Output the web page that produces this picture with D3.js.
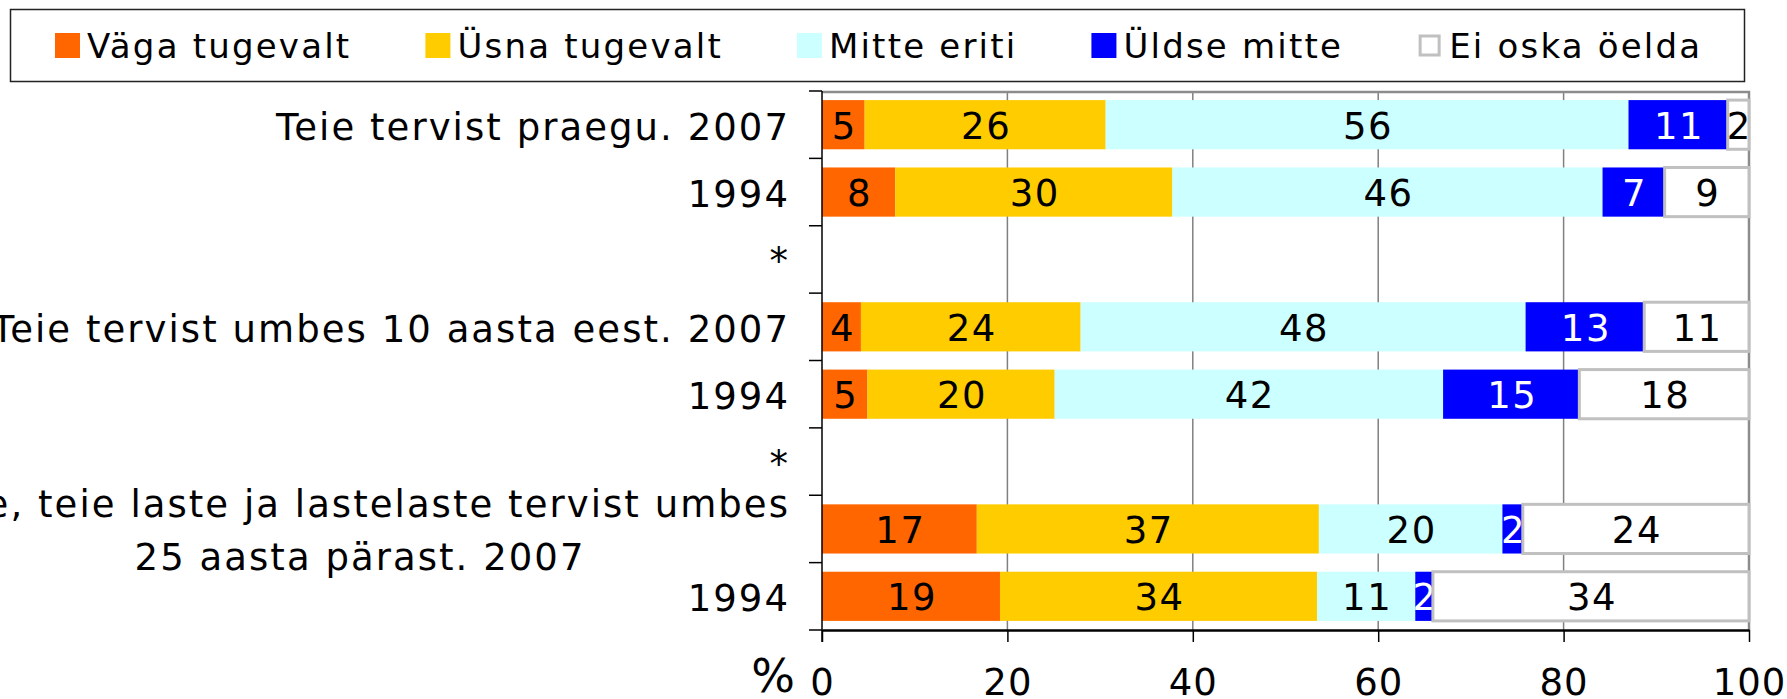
<!DOCTYPE html>
<html>
<head>
<meta charset="utf-8">
<script src="https://cdn.jsdelivr.net/npm/d3@7"></script>
<style>
body { margin: 0; background: #fff; }
svg { display: block; font-family: "DejaVu Sans", Verdana, sans-serif; }
</style>
</head>
<body>
<svg width="1787" height="699"></svg>
<script>
// rows, top to bottom; "*" rows are empty spacers
var categories = [
  ["Teie tervist praegu. 2007"],
  ["1994"],
  ["*"],
  ["Teie tervist umbes 10 aasta eest. 2007"],
  ["1994"],
  ["*"],
  ["Teie, teie laste ja lastelaste tervist umbes", "25 aasta pärast. 2007"],
  ["1994"]
];

var seriesNames = ["Väga tugevalt", "Üsna tugevalt", "Mitte eriti", "Üldse mitte", "Ei oska öelda"];
var seriesKeys = ["vaga", "usna", "mitte", "uldse", "eioska"];

// percentages per row (null = spacer row)
var vagaTugevalt = [4.6, 7.9, null, 4.2, 4.9, null, 16.7, 19.2];
var usnaTugevalt = [26.0, 29.9, null, 23.7, 20.2, null, 36.9, 34.2];
var mitteEriti   = [56.4, 46.4, null, 48.0, 41.9, null, 19.8, 10.6];
var uldseMitte   = [10.7, 6.7, null, 12.8, 14.7, null, 2.2, 1.9];
var eiOskaOelda  = [2.3, 9.1, null, 11.3, 18.3, null, 24.4, 34.1];

var xTicks = [0, 20, 40, 60, 80, 100];

var svg = d3.select("svg");

var color = d3.scaleOrdinal()
    .domain(seriesKeys)
    .range(["#ff6600", "#ffcc00", "#ccffff", "#0000ff", "#ffffff"]);

var rows = categories.map(function(c, i) {
  return {
    i: i,
    vaga: vagaTugevalt[i], usna: usnaTugevalt[i], mitte: mitteEriti[i],
    uldse: uldseMitte[i], eioska: eiOskaOelda[i]
  };
});
var dataRows = rows.filter(function(d) { return d.vaga != null; });

var x = d3.scaleLinear().domain([0, 100]).range([822, 1749]);
var y = d3.scaleBand().domain(d3.range(categories.length)).range([91, 630]).padding(0);
var barInset = y.bandwidth() * 0.135,
    barH = y.bandwidth() * 0.73;

// gridlines
svg.append("g").selectAll("line")
  .data(xTicks.slice(1, -1))
  .enter().append("line")
    .attr("x1", function(d) { return x(d); })
    .attr("x2", function(d) { return x(d); })
    .attr("y1", 91).attr("y2", 630)
    .attr("stroke", "#808080").attr("stroke-width", 1.5);

// plot area frame (top & right)
svg.append("path")
    .attr("d", "M" + x(0) + "," + 92 + "H" + (x(100)) + "V" + 630)
    .attr("fill", "none")
    .attr("stroke", "#8c8c8c")
    .attr("stroke-width", 2.5);

// bars
var stack = d3.stack().keys(seriesKeys);
var layers = stack(dataRows);

var layer = svg.append("g").selectAll("g")
  .data(layers)
  .enter().append("g");

layer.selectAll("rect")
  .data(function(d) { return d.map(function(p) { p.key = d.key; return p; }); })
  .enter().append("rect")
    .attr("x", function(d) { return x(d[0]); })
    .attr("width", function(d) { return x(d[1]) - x(d[0]); })
    .attr("y", function(d) { return y(d.data.i) + barInset; })
    .attr("height", barH)
    .attr("fill", function(d) { return color(d.key); })
    .attr("stroke", function(d) { return d.key == "eioska" ? "#c0c0c0" : "none"; })
    .attr("stroke-width", 3);

layer.selectAll("text")
  .data(function(d) { return d; })
  .enter().append("text")
    .attr("x", function(d) { return (x(d[0]) + x(d[1])) / 2 + 1; })
    .attr("y", function(d) { return y(d.data.i) + y.bandwidth() / 2 + 14; })
    .attr("text-anchor", "middle")
    .attr("font-size", 37)
    .attr("letter-spacing", 1.5)
    .attr("fill", function(d) { return d.key == "uldse" ? "#fff" : "#000"; })
    .text(function(d) { return Math.round(d[1] - d[0]); });

// left axis
svg.append("line")
    .attr("x1", x(0)).attr("x2", x(0))
    .attr("y1", 91).attr("y2", 642)
    .attr("stroke", "#000").attr("stroke-width", 1.5);

var bounds = d3.range(categories.length).map(function(i) { return y(i); }).concat([630]);
svg.append("g").selectAll("line")
  .data(bounds)
  .enter().append("line")
    .attr("x1", x(0) - 13).attr("x2", x(0))
    .attr("y1", function(d) { return d; })
    .attr("y2", function(d) { return d; })
    .attr("stroke", "#000").attr("stroke-width", 1.5);

// category labels
var catG = svg.append("g")
    .attr("font-size", 37)
    .attr("letter-spacing", 2.05)
    .attr("fill", "#000");

categories.forEach(function(lines, i) {
  var cy = y(i) + y.bandwidth() / 2;
  if (lines.length == 1) {
    catG.append("text")
        .attr("x", 790).attr("y", cy + 15)
        .attr("text-anchor", "end")
        .text(lines[0]);
  } else {
    var t1 = catG.append("text")
        .attr("x", 790).attr("y", cy - 12)
        .attr("text-anchor", "end")
        .text(lines[0]);
    var w = t1.node().getComputedTextLength();
    catG.append("text")
        .attr("x", 790 - w / 2).attr("y", cy + 41)
        .attr("text-anchor", "middle")
        .text(lines[1]);
  }
});

// bottom axis
var xAxis = svg.append("g")
    .attr("transform", "translate(0,630)")
    .call(d3.axisBottom(x).tickValues(xTicks).tickSize(12).tickSizeOuter(0));
xAxis.select(".domain").attr("stroke", "#000").attr("stroke-width", 2.5);
xAxis.selectAll(".tick line").attr("stroke", "#000").attr("stroke-width", 1.5);
xAxis.selectAll(".tick text")
    .attr("y", 65).attr("dy", 0)
    .attr("font-family", "DejaVu Sans, Verdana, sans-serif")
    .attr("font-size", 37)
    .attr("letter-spacing", 1)
    .attr("fill", "#000");

svg.append("text")
    .attr("x", 795).attr("y", 692)
    .attr("text-anchor", "end")
    .attr("font-size", 46)
    .text("%");

// legend
svg.append("rect")
    .attr("x", 10.5).attr("y", 9.5)
    .attr("width", 1734).attr("height", 72)
    .attr("fill", "#fff")
    .attr("stroke", "#222").attr("stroke-width", 1.5);

var lx = 55;
seriesNames.forEach(function(name, i) {
  var key = seriesKeys[i];
  svg.append("rect")
      .attr("x", key == "eioska" ? lx + 3 : lx)
      .attr("y", key == "eioska" ? 36 : 33)
      .attr("width", key == "eioska" ? 19 : 25)
      .attr("height", key == "eioska" ? 19 : 25)
      .attr("fill", color(key))
      .attr("stroke", key == "eioska" ? "#c0c0c0" : "none")
      .attr("stroke-width", 3);
  var t = svg.append("text")
      .attr("x", lx + 32).attr("y", 58)
      .attr("font-size", 34)
      .attr("letter-spacing", 2.2)
      .text(name);
  lx += 32 + t.node().getComputedTextLength() + 74;
});
</script>
</body>
</html>
